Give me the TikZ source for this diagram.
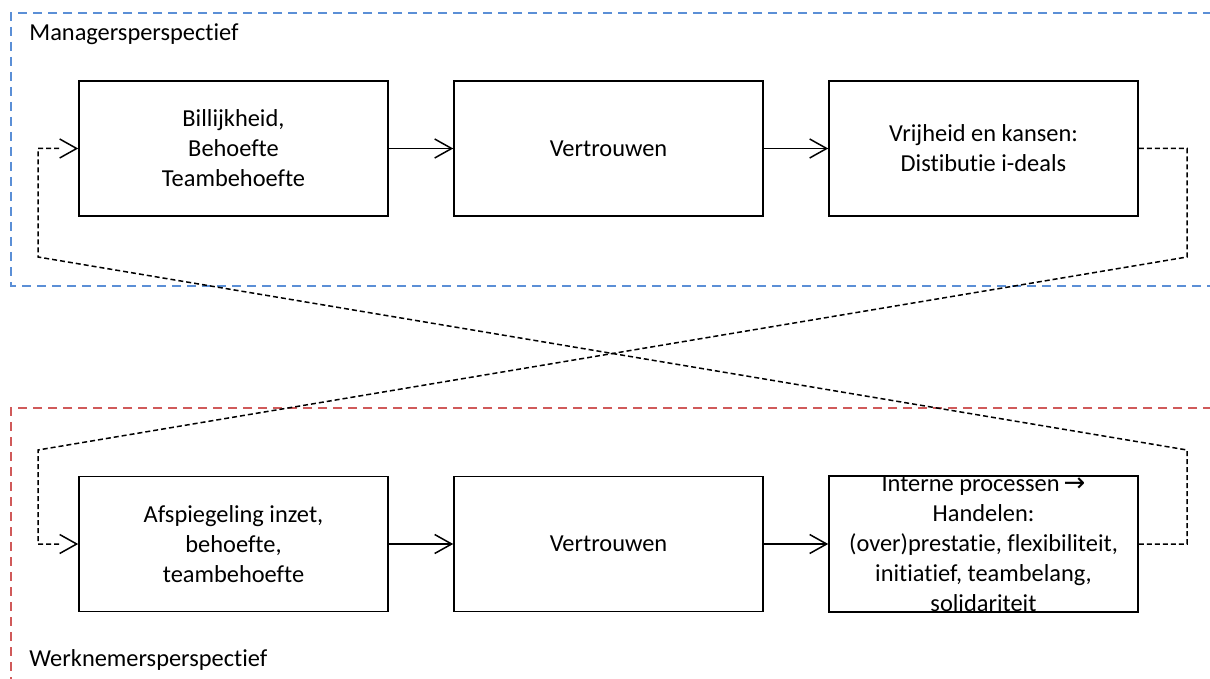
\documentclass[tikz,border=0pt]{standalone}
\usepackage{fontspec}
\setmainfont{Carlito}[Ligatures=NoCommon]
\usetikzlibrary{arrows.meta}
\definecolor{mblue}{HTML}{5B8FD6}
\definecolor{mred}{HTML}{D05A5A}
\begin{document}
\begin{tikzpicture}[x=0.5pt,y=-0.5pt,
  font=\fontsize{12.2}{15}\selectfont,
  box/.style={draw,line width=0.8pt,minimum width=154.5pt,minimum height=67.5pt,align=center,inner sep=0pt},
  flow/.style={line width=0.6pt,-{Straight Barb[length=8.5pt,width=9.5pt,line width=0.75pt]}},
  conn/.style={line width=0.75pt,dash pattern=on 2.5pt off 1.5pt},
  frame/.style={line width=0.8pt,dash pattern=on 4.5pt off 3pt},
  lbl/.style={anchor=west,inner sep=0pt}]
\useasboundingbox (0,0) rectangle (1210,679);
% frames
\draw[frame,mblue] (1212,13) -- (11,13) -- (11,286) -- (1212,286);
\draw[frame,mred] (1212,408) -- (11,408) -- (11,685);
\node[lbl] (mgr) at (29,34) {Managersperspectief};
\node[lbl] (wkn) at (29,660) {Werknemersperspectief};
% boxes
\node[box] (b1) at (233.5,148.5) {Billijkheid,\\Behoefte\\Teambehoefte};
\node[box] (b2) at (608.5,148.5) {Vertrouwen};
\node[box] (b3) at (983.5,148.5) {Vrijheid en kansen:\\Distibutie i-deals};
\node[box] (b4) at (233.5,544) {Afspiegeling inzet,\\behoefte,\\teambehoefte};
\node[box] (b5) at (608.5,544) {Vertrouwen};
\node[box] (b6) at (983.5,544) {Interne processen\,{\fontspec{DejaVu Sans}\fontsize{13}{10}\selectfont→}\\Handelen:\\(over)prestatie, flexibiliteit,\\initiatief, teambelang,\\solidariteit};
\draw[flow] (b1) -- (b2);
\draw[flow] (b2) -- (b3);
\draw[flow] (b4) -- (b5);
\draw[flow] (b5) -- (b6);
% crossing connectors
\coordinate (r1) at (1187,257);
\coordinate (l2) at (38,450);
\coordinate (l1) at (38,257);
\coordinate (r2) at (1187,450);
\draw[conn] (b3.east) -| (r1) -- (l2) |- ([xshift=-8pt]b4.west);
\draw[flow,shorten <=7pt] ([xshift=-8pt]b4.west) -- (b4.west);
\draw[conn] (b6.east) -| (r2) -- (l1) |- ([xshift=-8pt]b1.west);
\draw[flow,shorten <=7pt] ([xshift=-8pt]b1.west) -- (b1.west);
\end{tikzpicture}
\end{document}
